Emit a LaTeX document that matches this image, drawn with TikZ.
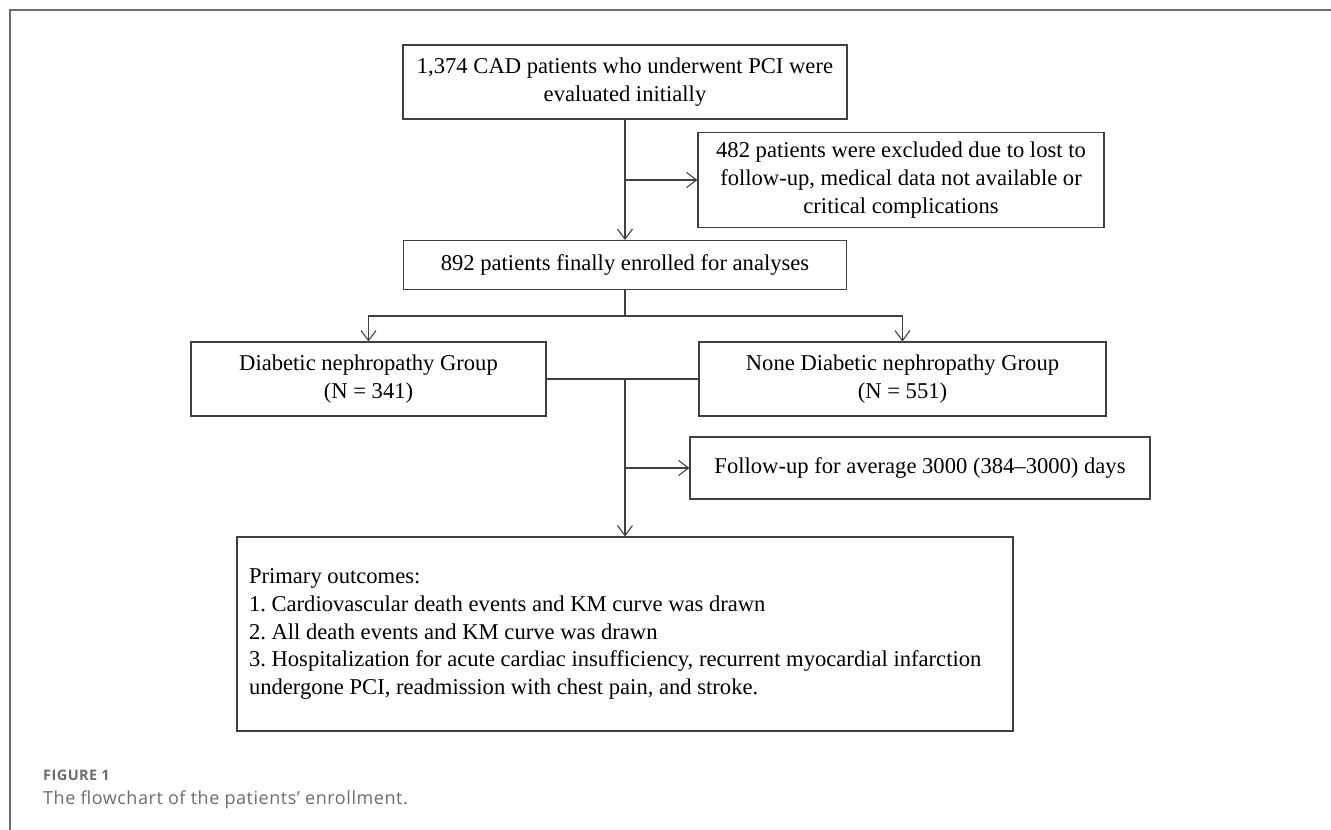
\documentclass[tikz,border=0pt]{standalone}
\usepackage{fontspec}
\setmainfont{Liberation Serif}
\newfontfamily\capfont[LetterSpace=3]{Open Sans}
\usetikzlibrary{arrows.meta}

\definecolor{linegray}{HTML}{404040}
\definecolor{framegray}{HTML}{6E6E6E}
\definecolor{capgray}{HTML}{6C6C6C}

\tikzset{
	box/.style={draw=linegray, line width=1.1pt, inner sep=0pt, font=\fontsize{22.6}{27.6}\selectfont\frenchspacing},
	flow/.style={draw=linegray, line width=1.1pt, -{Straight Barb[length=10pt,width=15pt]}},
	link/.style={draw=linegray, line width=1.1pt}
}

\begin{document}
\begin{tikzpicture}[x=1pt, y=-1pt]
		\useasboundingbox (0,0) rectangle (1331,830);
		% frame
		\draw[framegray, line width=1.3pt] (10,830) -- (10,10) -- (1331,10);
		
		% boxes
		\node[box, minimum width=444pt, minimum height=74pt, align=center] (start) at (625,82) {1,374 CAD patients who underwent PCI were\\evaluated initially};
		\node[box, minimum width=406pt, minimum height=95pt, align=center] (excl) at (901,180) {482 patients were excluded due to lost to\\follow-up, medical data not available or\\critical complications};
		\node[box, minimum width=443pt, minimum height=49pt] (enrol) at (625,265) {892 patients finally enrolled for analyses};
		\node[box, minimum width=355pt, minimum height=74pt, align=center] (dn) at (368.5,379) {Diabetic nephropathy Group\\(N = 341)};
		\node[box, minimum width=407pt, minimum height=74pt, align=center] (ndn) at (902.5,379) {None Diabetic nephropathy Group\\(N = 551)};
		\node[box, minimum width=460pt, minimum height=62pt] (fu) at (920,468) {Follow-up for average 3000 (384--3000) days};
		\node[box, minimum width=776pt, minimum height=194pt, text width=752pt, align=flush left] (outc) at (625,634) {Primary outcomes:\\1. Cardiovascular death events and KM curve was drawn\\2. All death events and KM curve was drawn\\3. Hospitalization for acute cardiac insufficiency, recurrent myocardial infarction\\undergone PCI, readmission with chest pain, and stroke.};
		
		% connectors
		\draw[flow] (start.south) -- (start.south |- enrol.north);
		\draw[flow] (start.south |- excl.west) -- (excl.west);
		
		\coordinate (split) at (625,316);
		\draw[link] (enrol.south) -- (split);
		\draw[flow] (split) -| (dn.north);
		\draw[flow] (split) -| (ndn.north);
		
		\draw[link] (dn.east) -- (ndn.west);
		\coordinate (join) at (625,379);
		\draw[flow] (join) -- (outc.north);
		\draw[flow] (join |- fu.west) -- (fu.west);
		
		% caption
		\node[anchor=base west, inner sep=0pt, text=capgray, font=\capfont\bfseries\fontsize{14.5}{16}\selectfont] (figno) at (43,780) {FIGURE 1};
		\node[anchor=base west, inner sep=0pt, text=capgray, font=\capfont\fontsize{18}{21}\selectfont] (figcap) at (43,804) {The flowchart of the patients’ enrollment.};
\end{tikzpicture}
\end{document}
